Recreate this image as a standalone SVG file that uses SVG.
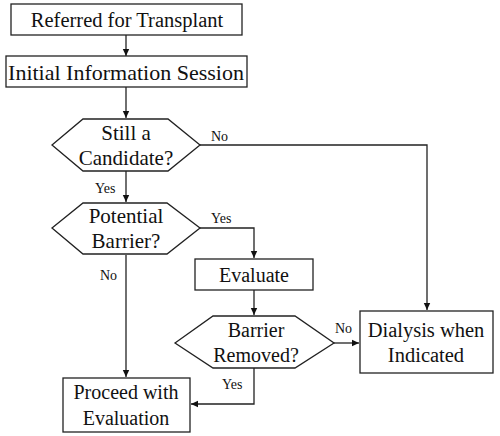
<svg xmlns="http://www.w3.org/2000/svg" width="500" height="436" viewBox="0 0 500 436">
<defs>
<marker id="ah" markerWidth="8" markerHeight="8" refX="7" refY="4" orient="auto" markerUnits="userSpaceOnUse">
<path d="M0,0.8 L7,4 L0,7.2 Z" fill="#111"/>
</marker>
<style>
.box{fill:#fff;stroke:#222;stroke-width:1.3}
.t{font-family:"Liberation Serif","Times New Roman",serif;font-size:20px;fill:#111;text-anchor:middle}
.d{font-size:21px}
.l{font-family:"Liberation Serif","Times New Roman",serif;font-size:14px;fill:#111}
.c{fill:none;stroke:#222;stroke-width:1.3}
</style>
</defs>
<rect width="500" height="436" fill="#fff"/>
<g id="connectors">
<path class="c" d="M126,35 V56" marker-end="url(#ah)"/>
<path class="c" d="M126,87 V118" marker-end="url(#ah)"/>
<path class="c" d="M126,171 V202" marker-end="url(#ah)"/>
<path class="c" d="M200,145 H427 V310" marker-end="url(#ah)"/>
<path class="c" d="M200,228 H254 V258" marker-end="url(#ah)"/>
<path class="c" d="M126,255 V377" marker-end="url(#ah)"/>
<path class="c" d="M254,290 V315" marker-end="url(#ah)"/>
<path class="c" d="M334,343 H359" marker-end="url(#ah)"/>
<path class="c" d="M254,368 V404 H191" marker-end="url(#ah)"/>
<text class="l" x="211" y="141">No</text>
<text class="l" x="95" y="193">Yes</text>
<text class="l" x="211" y="223">Yes</text>
<text class="l" x="100" y="280">No</text>
<text class="l" x="335" y="333">No</text>
<text class="l" x="222" y="389">Yes</text>
</g>
<g id="referred">
<rect class="box" x="11" y="4" width="231" height="31"/>
<text class="t" x="127" y="27" style="font-size:20.5px">Referred for Transplant</text>
</g>
<g id="session">
<rect class="box" x="6" y="56" width="241" height="31"/>
<text class="t" x="126" y="80" style="font-size:22px">Initial Information Session</text>
</g>
<g id="candidate">
<polygon class="box" points="52,145 83,119 168,119 200,145 168,171 83,171"/>
<text class="t d" x="126" y="140">Still a</text>
<text class="t d" x="126" y="165">Candidate?</text>
</g>
<g id="barrier">
<polygon class="box" points="52,228 83,203 167,203 200,228 167,254 83,254"/>
<text class="t d" x="126" y="223">Potential</text>
<text class="t d" x="126" y="248">Barrier?</text>
</g>
<g id="evaluate">
<rect class="box" x="195" y="259" width="118" height="31"/>
<text class="t" x="254" y="282">Evaluate</text>
</g>
<g id="removed">
<polygon class="box" points="175,343 213,316 295,316 334,343 295,368 213,368"/>
<text class="t" x="256" y="337">Barrier</text>
<text class="t" x="256" y="362">Removed?</text>
</g>
<g id="dialysis">
<rect class="box" x="360" y="311" width="133" height="62"/>
<text class="t" x="426" y="337" style="font-size:20.5px">Dialysis when</text>
<text class="t" x="426" y="362" style="font-size:20.5px">Indicated</text>
</g>
<g id="proceed">
<rect class="box" x="63" y="378" width="127" height="54"/>
<text class="t" x="126" y="399">Proceed with</text>
<text class="t" x="126" y="425">Evaluation</text>
</g>
</svg>
